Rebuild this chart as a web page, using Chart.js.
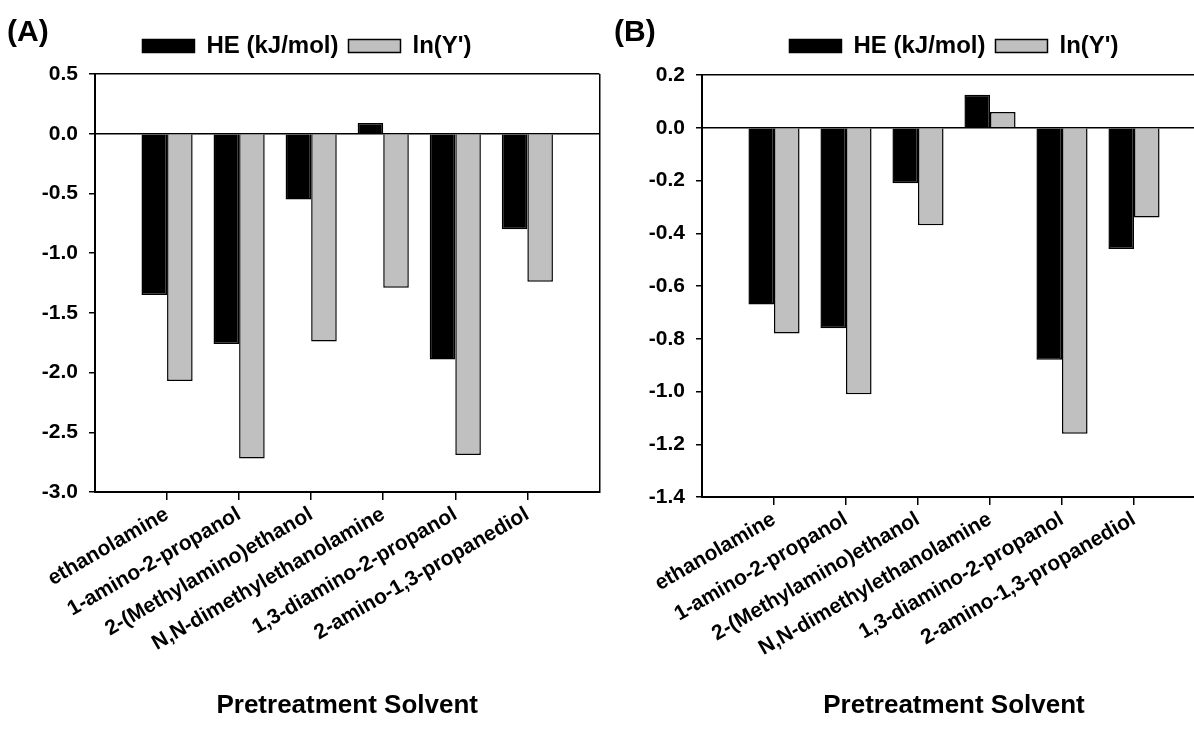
<!DOCTYPE html>
<html>
<head>
<meta charset="utf-8">
<script src="https://cdn.jsdelivr.net/npm/chart.js@4"></script>
<style>
body{margin:0;background:#fff;width:1194px;height:729px;overflow:hidden;position:relative;font-family:"Liberation Sans",Arial,sans-serif;}
.panel{position:absolute;top:0;height:729px;}
#boxA{left:0;width:614px;}
#boxB{left:600px;width:708px;}
.tag{position:absolute;font-weight:bold;font-size:30px;color:#000;}
</style>
</head>
<body>
<div class="panel" id="boxA"><canvas id="chartA"></canvas></div>
<div class="panel" id="boxB"><canvas id="chartB"></canvas></div>
<div class="tag" style="left:7px;top:14px">(A)</div>
<div class="tag" style="left:614px;top:14px">(B)</div>
<script>
// DATOS
const solventes = [
    'ethanolamine','1-amino-2-propanol','2-(Methylamino)ethanol',
    'N,N-dimethylethanolamine','1,3-diamino-2-propanol','2-amino-1,3-propanediol'
];
const nombresSeries = ['HE (kJ/mol)', "ln(Y')"];

// panel A
const heA = [-1.35, -1.76, -0.55, 0.09, -1.89, -0.80];
const lnA = [-2.07, -2.72, -1.74, -1.29, -2.69, -1.24];
const ejeA = {min: -3.0, max: 0.5, paso: 0.5};

// panel B
const heB = [-0.67, -0.76, -0.21, 0.125, -0.88, -0.46];
const lnB = [-0.78, -1.01, -0.37, 0.06, -1.16, -0.34];
const ejeB = {min: -1.4, max: 0.2, paso: 0.2};

const FUENTE = '"Liberation Sans", Arial, sans-serif';

function formatoTick(v){
    let r = Math.round(v * 10) / 10;
    if(r === 0) r = 0;
    return r.toFixed(1);
}

// GRAFICO
function crearGrafico(id, he, ln, eje, anchoY, anchoDer, arriba, abajo){

    // un hueco vacio a cada lado, como en la figura original
    let etiquetas = ['', ...solventes, ''];
    let ultimo = etiquetas.length - 1;

    return new Chart(document.getElementById(id), {
        type: 'bar',
        data: {
            labels: etiquetas,
            datasets: [
                {
                    label: nombresSeries[0],
                    data: [null, ...he, null],
                    backgroundColor: '#000',
                    borderColor: '#000',
                    borderWidth: 1.5
                },
                {
                    label: nombresSeries[1],
                    data: [null, ...ln, null],
                    backgroundColor: '#c0c0c0',
                    borderColor: '#000',
                    borderWidth: 1.5
                }
            ]
        },
        options: {
            responsive: true,
            maintainAspectRatio: false,
            animation: false,
            categoryPercentage: 0.71,
            barPercentage: 1,
            layout: { autoPadding: false, padding: { top: 24, left: 0, right: 0, bottom: 0 } },
            plugins: {
                legend: {
                    position: 'top',
                    labels: {
                        boxWidth: 52,
                        boxHeight: 13,
                        padding: 10,
                        color: '#000',
                        font: { family: FUENTE, size: 24, weight: 'bold' }
                    }
                },
                tooltip: { enabled: false }
            },
            scales: {
                x: {
                    offset: false,
                    grid: {
                        offset: false,
                        lineWidth: 1.5,
                        tickLength: 8,
                        color: c => c.index === ultimo ? '#000' : 'rgba(0,0,0,0)',
                        tickColor: c => (c.index > 0 && c.index < ultimo) ? '#000' : 'rgba(0,0,0,0)'
                    },
                    border: { color: '#000', width: 2 },
                    ticks: {
                        autoSkip: false,
                        maxRotation: 30,
                        minRotation: 30,
                        padding: 2,
                        color: '#000',
                        font: { family: FUENTE, size: 21, weight: 'bold' }
                    },
                    title: {
                        display: true,
                        text: 'Pretreatment Solvent',
                        color: '#000',
                        padding: { top: 0, bottom: 8 },
                        font: { family: FUENTE, size: 26, weight: 'bold' }
                    },
                    afterFit: s => { s.height = 729 - abajo; }
                },
                y: {
                    min: eje.min,
                    max: eje.max,
                    grid: {
                        lineWidth: 1.5,
                        tickLength: 6,
                        color: c => (Math.abs(c.tick.value) < 1e-9 || Math.abs(c.tick.value - eje.max) < 1e-9) ? '#000' : 'rgba(0,0,0,0)',
                        tickColor: '#000'
                    },
                    border: { color: '#000', width: 2 },
                    ticks: {
                        stepSize: eje.paso,
                        padding: 11,
                        color: '#000',
                        callback: formatoTick,
                        font: { family: FUENTE, size: 21, weight: 'bold' }
                    },
                    afterFit: s => { s.width = anchoY; }
                },
                // ejes fantasma, solo ocupan espacio
                derecha: {
                    type: 'linear',
                    position: 'right',
                    grid: { display: false },
                    border: { display: false },
                    ticks: { display: false },
                    afterFit: s => { s.width = anchoDer; }
                },
                techo: {
                    type: 'linear',
                    position: 'top',
                    grid: { display: false },
                    border: { display: false },
                    ticks: { display: false },
                    afterFit: s => { s.height = arriba; }
                }
            }
        }
    });
}

crearGrafico('chartA', heA, lnA, ejeA, 95, 14, 6, 492);
crearGrafico('chartB', heB, lnB, ejeB, 102, 102, 7, 497);
</script>
</body>
</html>
